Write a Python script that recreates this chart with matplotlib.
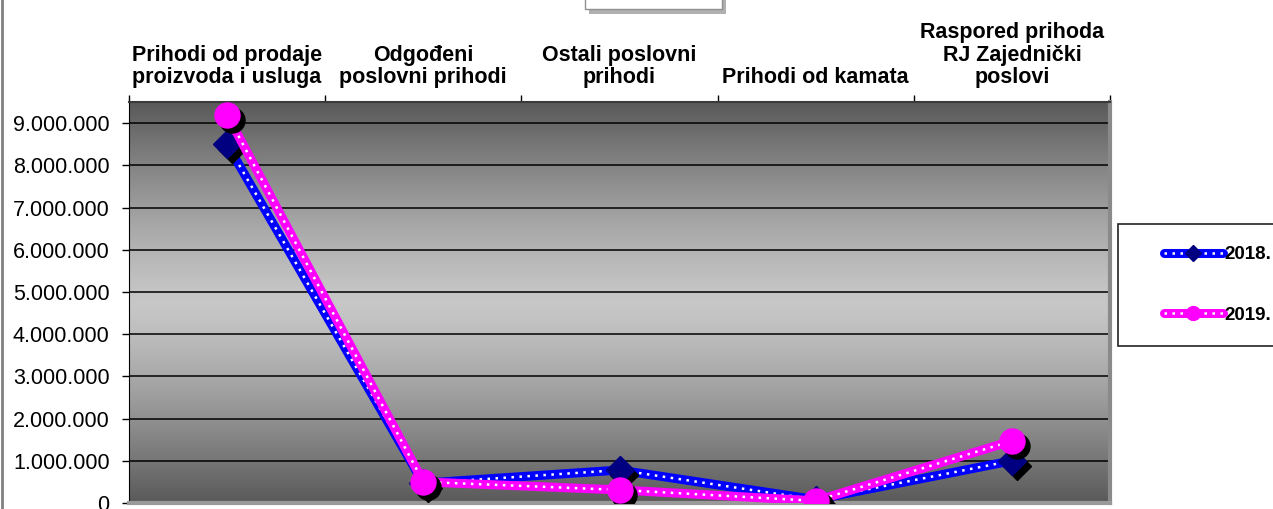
import numpy as np
import matplotlib
matplotlib.use("Agg")
import matplotlib.pyplot as plt
import matplotlib.transforms as mtransforms
from matplotlib.patches import Rectangle
from matplotlib.lines import Line2D
from matplotlib.ticker import FuncFormatter, FixedLocator

plt.rcParams['font.family'] = ['Liberation Sans', 'DejaVu Sans']

# podaci
kategorije = ['Prihodi od prodaje\nproizvoda i usluga',
              'Odgođeni\nposlovni prihodi',
              'Ostali poslovni\nprihodi',
              'Prihodi od kamata',
              'Raspored prihoda\nRJ Zajednički\nposlovi']
prihodi_2018 = [8500000, 470000, 780000, 80000, 1000000]
prihodi_2019 = [9200000, 500000, 310000, 50000, 1470000]
godine = ['2018.', '2019.']

W, H = 1273, 509
fig = plt.figure(figsize=(W / 100, H / 100), dpi=100)
fig.patch.set_facecolor('white')
ax = fig.add_axes([129 / W, 6 / H, (1110 - 129) / W, (503 - 102) / H])

x = np.arange(len(kategorije))

# gradijent pozadine (tamno - svijetlo - tamno)
t = np.linspace(0, 1, 256)
shade = 0.35 + 0.43 * (1 - np.abs(2 * t - 1) ** 1.3)
grad = np.dstack([shade, shade, shade]).reshape(256, 1, 3)
ax.imshow(grad, extent=[0, 1, 0, 1], transform=ax.transAxes, aspect='auto',
          zorder=0, interpolation='bilinear')

ax.set_xlim(-0.5, len(kategorije) - 0.5)
ax.set_ylim(0, 9500000)
ax.set_yticks(np.arange(0, 9000001, 1000000))
ax.yaxis.set_major_formatter(FuncFormatter(lambda v, p: f'{int(v):,}'.replace(',', '.')))
ax.grid(axis='y', color='black', lw=1.1, zorder=1)
ax.set_axisbelow(True)

ax.xaxis.tick_top()
ax.set_xticks(x)
ax.set_xticklabels(kategorije, fontsize=15.5, fontweight='bold', linespacing=1.1)
ax.xaxis.set_minor_locator(FixedLocator(np.arange(-0.5, len(kategorije), 1)))
ax.tick_params(axis='x', which='major', length=0, pad=10)
ax.tick_params(axis='x', which='minor', length=5, width=1, color='black', top=True)
ax.tick_params(axis='y', length=5, width=1, labelsize=15.5, pad=9)

ax.spines['left'].set_color('black')
ax.spines['top'].set_color('#3a3a3a')
ax.spines['top'].set_linewidth(1.5)
ax.spines['right'].set_color('#8a8a8a')
ax.spines['right'].set_linewidth(3)
ax.spines['bottom'].set_color('#9a9a9a')
ax.spines['bottom'].set_linewidth(3)

shadow = mtransforms.offset_copy(ax.transData, fig=fig, x=3.5, y=-3.5, units='points')

# 2018
ax.plot(x, prihodi_2018, color='#0000ff', lw=6.5, zorder=3, solid_capstyle='round')
ax.plot(x, prihodi_2018, color='white', lw=1.8, ls=(0, (1, 2.2)), zorder=4)
ax.plot(x, prihodi_2018, ls='none', marker='D', ms=14, color='black', transform=shadow, zorder=4)
ax.plot(x, prihodi_2018, ls='none', marker='D', ms=14, color='#000080', zorder=5)

# 2019
ax.plot(x, prihodi_2019, color='#ff00ff', lw=6.5, zorder=6, solid_capstyle='round')
ax.plot(x, prihodi_2019, color='white', lw=1.8, ls=(0, (1, 2.2)), zorder=7)
ax.plot(x, prihodi_2019, ls='none', marker='o', ms=18, color='black', transform=shadow, zorder=7)
ax.plot(x, prihodi_2019, ls='none', marker='o', ms=18, color='#ff00ff', zorder=8)

# legenda
fig.patches.append(Rectangle((1118 / W, (509 - 346) / H), 200 / W, 122 / H,
                             transform=fig.transFigure, facecolor='white',
                             edgecolor='#222222', lw=1.2))
h18 = (Line2D([], [], color='#0000ff', lw=6.5, solid_capstyle='round'),
       Line2D([], [], color='white', lw=1.8, ls=(0, (1, 2.2))),
       Line2D([], [], ls='none', marker='D', ms=8, color='#000080'))
h19 = (Line2D([], [], color='#ff00ff', lw=6.5, solid_capstyle='round'),
       Line2D([], [], color='white', lw=1.8, ls=(0, (1, 2.2))),
       Line2D([], [], ls='none', marker='o', ms=10, color='#ff00ff'))
fig.legend([h18, h19], godine, loc='center left',
           bbox_to_anchor=(1155 / W, (509 - 285) / H), frameon=False,
           prop={'size': 13.5, 'weight': 'bold'}, handlelength=3.1,
           handletextpad=0.1, labelspacing=2.3, borderpad=0)

# okvir grafikona i odsjeceni naslov
fig.add_artist(Line2D([2 / W, 2 / W], [0, 1], transform=fig.transFigure,
                      color='#808080', lw=2))
fig.patches.append(Rectangle((589 / W, (509 - 14) / H), 137 / W, 20 / H,
                             transform=fig.transFigure, facecolor='#b0b0b0',
                             edgecolor='none'))
fig.patches.append(Rectangle((585 / W, (509 - 9) / H), 137 / W, 20 / H,
                             transform=fig.transFigure, facecolor='white',
                             edgecolor='#909090', lw=1))

fig.savefig('out.png', dpi=100)
